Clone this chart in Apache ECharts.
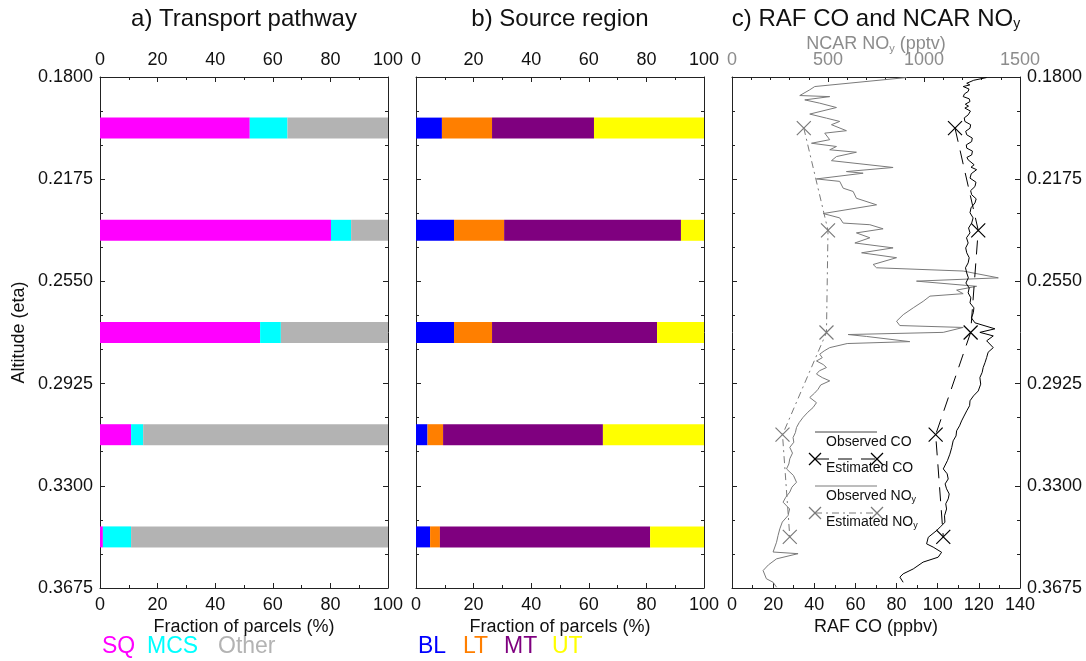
<!DOCTYPE html>
<html><head><meta charset="utf-8">
<script src="https://cdn.jsdelivr.net/npm/echarts@6/dist/echarts.min.js"></script>
<style>html,body{margin:0;padding:0;background:#fff}#c{width:1086px;height:661px}</style>
</head><body><div id="c"></div>
<script>
// ---------------- DATA ----------------
var LEVELS = [0.19875, 0.23625, 0.27375, 0.31125, 0.34875];   // eta of each layer (bar centre)
var Y_TICKS = [0.18, 0.2175, 0.255, 0.2925, 0.33, 0.3675];

// a) Transport pathway (% of parcels)
var PATH_NAMES = ['SQ', 'MCS', 'Other'];
var SQ    = [52.0, 80.2, 55.6, 10.8, 1.0];
var MCS   = [13.1,  7.0,  7.2,  4.2, 9.8];
var OTHER = [34.9, 12.8, 37.2, 85.0, 89.2];

// b) Source region (% of parcels)
var REG_NAMES = ['BL', 'LT', 'MT', 'UT'];
var BL = [ 9.0, 13.2, 13.2, 4.0,  4.9];
var LT = [17.4, 17.4, 13.2, 5.4,  3.4];
var MT = [35.4, 61.4, 57.3, 55.5, 73.0];
var UT = [38.2,  8.0, 16.3, 35.1, 18.7];

// c) Observed profiles: [eta, value]
var CO_OBS = [
 [0.1802,123.8],[0.1812,117.5],[0.1823,114.1],[0.1829,115.6],[0.1835,112.4],[0.1844,115.2],[0.1853,114.8],[0.1862,113.0],
 [0.1872,112.4],[0.1880,115.3],[0.1890,115.7],[0.1900,113.4],[0.1907,115.0],[0.1914,113.2],[0.1925,115.9],[0.1939,114.8],
 [0.1950,112.9],[0.1963,113.2],[0.1975,116.0],[0.1988,115.7],[0.1999,113.6],[0.2012,114.1],[0.2024,116.8],[0.2037,116.5],
 [0.2049,113.9],[0.2061,114.1],[0.2072,116.9],[0.2086,116.5],[0.2095,114.2],[0.2104,114.8],[0.2122,117.7],[0.2131,116.2],
 [0.2140,118.9],[0.2155,116.3],[0.2171,115.7],[0.2186,118.6],[0.2202,118.1],[0.2217,116.0],[0.2232,116.5],[0.2247,118.7],
 [0.2262,118.1],[0.2280,116.2],[0.2298,115.7],[0.2317,117.2],[0.2336,116.5],[0.2354,115.0],[0.2372,115.7],[0.2390,114.0],
 [0.2409,114.8],[0.2427,113.6],[0.2445,114.1],[0.2463,115.3],[0.2482,114.8],[0.2500,113.5],[0.2519,114.1],[0.2537,114.9],
 [0.2556,113.7],[0.2574,115.3],[0.2592,114.8],[0.2610,116.1],[0.2629,115.7],[0.2647,117.6],[0.2665,117.3],[0.2684,116.4],
 [0.2702,118.1],[0.2724,127.8],[0.2737,120.5],[0.2750,127.0],[0.2768,123.8],[0.2793,127.0],[0.2810,124.5],[0.2829,123.8],
 [0.2848,123.0],[0.2866,122.1],[0.2884,121.6],[0.2903,120.5],[0.2927,120.9],[0.2952,119.7],[0.2970,117.4],[0.2988,115.7],
 [0.3006,115.5],[0.3025,114.1],[0.3044,112.8],[0.3062,111.6],[0.3080,110.6],[0.3098,109.2],[0.3117,108.9],[0.3135,107.5],
 [0.3160,106.8],[0.3184,105.9],[0.3208,104.7],[0.3238,102.7],[0.3256,104.6],[0.3275,105.1],[0.3293,103.6],[0.3311,104.3],
 [0.3330,105.6],[0.3348,105.1],[0.3366,103.9],[0.3385,104.3],[0.3410,103.3],[0.3434,103.5],[0.3449,101.5],[0.3464,99.5],
 [0.3489,95.4],[0.3513,94.6],[0.3525,97.8],[0.3544,101.9],[0.3562,100.2],[0.3580,92.9],[0.3605,88.1],[0.3623,83.2],
 [0.3635,81.6],[0.3654,83.2]
];
var NOY_OBS = [
 [0.1802,909],[0.1835,431],[0.1847,405],[0.1868,353],[0.1872,509],[0.1884,379],[0.1896,457],[0.1912,544],
 [0.1936,405],[0.1951,492],[0.1963,561],[0.1975,518],[0.1997,596],[0.2006,483],[0.2030,509],[0.2043,414],
 [0.2055,544],[0.2067,509],[0.2076,648],[0.2092,544],[0.2107,518],[0.2132,839],[0.2147,596],[0.2153,683],
 [0.2174,440],[0.2183,561],[0.2208,579],[0.2220,631],[0.2245,648],[0.2269,753],[0.2301,475],[0.2317,561],
 [0.2336,579],[0.2342,718],[0.2357,787],[0.2372,648],[0.2390,718],[0.2409,640],[0.2427,839],[0.2445,675],
 [0.2463,857],[0.2488,735],[0.2500,753],[0.2512,1204],[0.2537,1387],[0.2549,961],[0.2568,1274],[0.2582,1170],
 [0.2595,1204],[0.2604,1031],[0.2623,996],[0.2647,944],[0.2672,892],[0.2696,857],[0.2712,874],[0.2719,1204],
 [0.2737,1100],[0.2745,605],[0.2752,700],[0.2771,926],[0.2778,600],[0.2793,509],[0.2805,480],[0.2817,457],
 [0.2830,470],[0.2842,440],[0.2855,475],[0.2866,492],[0.2878,455],[0.2890,440],[0.2903,470],[0.2915,509],
 [0.2930,462],[0.2946,448],[0.2960,430],[0.2976,405],[0.2995,440],[0.3013,422],[0.3030,395],[0.3049,370],
 [0.3068,350],[0.3086,336],[0.3105,330],[0.3123,318],[0.3140,322],[0.3159,301],[0.3180,315],[0.3201,301],
 [0.3220,296],[0.3238,284],[0.3262,320],[0.3287,336],[0.3305,312],[0.3323,301],[0.3342,280],[0.3360,266],
 [0.3385,300],[0.3409,292],[0.3433,262],[0.3458,249],[0.3482,240],[0.3507,232],[0.3543,214],[0.3549,344],
 [0.3568,232],[0.3590,190],[0.3611,162],[0.3641,179],[0.3654,214],[0.3672,232]
];
// c) Estimated values at the five layers
var EST_CO  = [108.4, 119.7, 116.0, 99.0, 102.7];
var EST_NOY = [374, 500, 492, 263, 301];

// ---------------- STYLE / LAYOUT ----------------
var FONT = "'Liberation Sans', Arial, Helvetica, sans-serif";
var Y0 = 0.18, YSTEP = 0.0375;            // y axis in "tick units"
function yv(eta){ return (eta - Y0) / YSTEP; }
var BAR_THICK = 0.0077 / YSTEP;
var PATH_COLORS = ['#ff00ff', '#00ffff', '#b3b3b3'];
var REG_COLORS = ['#0000ff', '#ff7f00', '#7f007f', '#ffff00'];
var AX = '#222';
var XMARK = 'path://M0,0L10,10M10,0L0,10';

function stackRows(arrs){
  var rows = [];
  for (var k = 0; k < arrs.length; k++) rows.push([]);
  for (var i = 0; i < LEVELS.length; i++) {
    var acc = 0;
    for (var k = 0; k < arrs.length; k++) {
      rows[k].push([yv(LEVELS[i]), acc, acc + arrs[k][i]]);
      acc += arrs[k][i];
    }
  }
  return rows;
}
function barSeries(name, rows, color, xi, yi){
  return {
    type: 'custom', name: name, xAxisIndex: xi, yAxisIndex: yi,
    encode: { x: [1, 2], y: 0 },
    data: rows,
    renderItem: function(params, api){
      var y = api.value(0), a = api.value(1), b = api.value(2);
      var p0 = api.coord([a, y]), p1 = api.coord([b, y]);
      var h = api.size([0, BAR_THICK])[1];
      return { type: 'rect', shape: { x: p0[0], y: p0[1] - h/2, width: p1[0] - p0[0], height: h },
               style: { fill: color } };
    }
  };
}

var grids = [
  { left: 100, top: 77, width: 288, height: 511 },
  { left: 416, top: 77, width: 288, height: 511 },
  { left: 732, top: 77, width: 288, height: 511 }
];
function plain(v){ return String(v); }
function xAx(gi, pos, min, max, interval, minorSplit, opts){
  var o = {
    type: 'value', gridIndex: gi, position: pos, min: min, max: max, interval: interval,
    nameMoveOverlap: false,
    axisLine: { show: true, onZero: false, lineStyle: { color: AX, width: 1 } },
    axisTick: { show: true, inside: true, length: 5, lineStyle: { color: AX } },
    minorTick: { show: true, splitNumber: minorSplit, length: 3, lineStyle: { color: AX } },
    splitLine: { show: false },
    axisLabel: { show: true, color: '#111', fontSize: 18, fontFamily: FONT, margin: 8, formatter: plain }
  };
  for (var k in opts) o[k] = opts[k];
  return o;
}
function yAx(gi, pos, showLabel, opts){
  var o = {
    type: 'value', gridIndex: gi, position: pos, min: 0, max: 5, interval: 1, inverse: true,
    nameMoveOverlap: false,
    axisLine: { show: true, onZero: false, lineStyle: { color: AX, width: 1 } },
    axisTick: { show: true, inside: true, length: 5, lineStyle: { color: AX } },
    minorTick: { show: true, splitNumber: 3, length: 3, lineStyle: { color: AX } },
    splitLine: { show: false },
    axisLabel: { show: showLabel, color: '#111', fontSize: 18, fontFamily: FONT, margin: 7,
      formatter: function(v){ return Y_TICKS[Math.round(v)].toFixed(4); } }
  };
  for (var k in opts) o[k] = opts[k];
  return o;
}
var nameStyle = { color: '#111', fontSize: 18, fontFamily: FONT };
var grayLbl = { show: true, color: '#8c8c8c', fontSize: 18, fontFamily: FONT, margin: 8, formatter: plain };

var xAxes = [
  xAx(0, 'bottom', 0, 100, 20, 2, { name: 'Fraction of parcels (%)', nameLocation: 'middle', nameGap: 30, nameTextStyle: nameStyle }),
  xAx(0, 'top', 0, 100, 20, 2, {}),
  xAx(1, 'bottom', 0, 100, 20, 2, { name: 'Fraction of parcels (%)', nameLocation: 'middle', nameGap: 30, nameTextStyle: nameStyle }),
  xAx(1, 'top', 0, 100, 20, 2, {}),
  xAx(2, 'bottom', 0, 140, 20, 2, { name: 'RAF CO (ppbv)', nameLocation: 'middle', nameGap: 30, nameTextStyle: nameStyle }),
  xAx(2, 'top', 0, 1500, 500, 5, { axisLabel: grayLbl, name: 'NCAR NO{s|y} (pptv)', nameLocation: 'middle', nameGap: 23,
      nameTextStyle: { color: '#8c8c8c', fontSize: 18, fontFamily: FONT, rich: { s: { fontSize: 11, color: '#8c8c8c', fontFamily: FONT, padding: [9, 0, 0, 0] } } } })
];
var yAxes = [
  yAx(0, 'left', true, { name: 'Altitude (eta)', nameLocation: 'middle', nameGap: 72, nameTextStyle: nameStyle }),
  yAx(0, 'right', false, {}),
  yAx(1, 'left', false, {}),
  yAx(1, 'right', false, {}),
  yAx(2, 'left', false, {}),
  yAx(2, 'right', true, {})
];

var series = [];
var pr = stackRows([SQ, MCS, OTHER]);
for (var k = 0; k < 3; k++) series.push(barSeries(PATH_NAMES[k], pr[k], PATH_COLORS[k], 0, 0));
var rr = stackRows([BL, LT, MT, UT]);
for (var k = 0; k < 4; k++) series.push(barSeries(REG_NAMES[k], rr[k], REG_COLORS[k], 2, 2));

function toXY(arr){ return arr.map(function(d){ return [d[1], yv(d[0])]; }); }
function estXY(vals){ return vals.map(function(v, i){ return [v, yv(LEVELS[i])]; }); }

series.push({ type: 'line', name: 'Observed NOy', xAxisIndex: 5, yAxisIndex: 4, data: toXY(NOY_OBS),
  showSymbol: false, symbol: 'none', lineStyle: { color: '#7a7a7a', width: 1 }, z: 2, animation: false });
series.push({ type: 'line', name: 'Observed CO', xAxisIndex: 4, yAxisIndex: 4, data: toXY(CO_OBS),
  showSymbol: false, symbol: 'none', lineStyle: { color: '#000', width: 1 }, z: 3, animation: false });
series.push({ type: 'line', name: 'Estimated NOy', xAxisIndex: 5, yAxisIndex: 4, data: estXY(EST_NOY),
  symbol: XMARK, symbolSize: 14, itemStyle: { color: 'rgba(0,0,0,0)', borderColor: '#7a7a7a', borderWidth: 1.2 },
  lineStyle: { color: '#7a7a7a', width: 1, type: [7, 4, 2, 4] }, z: 4, animation: false });
series.push({ type: 'line', name: 'Estimated CO', xAxisIndex: 4, yAxisIndex: 4, data: estXY(EST_CO),
  symbol: XMARK, symbolSize: 14, itemStyle: { color: 'rgba(0,0,0,0)', borderColor: '#000', borderWidth: 1.2 },
  lineStyle: { color: '#000', width: 1, type: [14, 9] }, z: 5, animation: false });

// ---------------- GRAPHIC (titles, legends) ----------------
var subRich = function(col, fs){ return { s: { fontSize: fs, fontFamily: FONT, color: col, padding: [Math.round(fs*0.8), 0, 0, 0] } }; };
var g = [];
function txt(x, y, s, col, fs, align, rich){
  g.push({ type: 'text', x: x, y: y, style: { text: s, fill: col, font: fs + 'px ' + FONT, textAlign: align || 'left', textVerticalAlign: 'middle', rich: rich } });
}
// titles
txt(244, 19, 'a) Transport pathway', '#111', 24, 'center');
txt(560, 19, 'b) Source region', '#111', 24, 'center');
txt(876, 19, 'c) RAF CO and NCAR NO{s|y}', '#111', 24, 'center', subRich('#111', 14));
// bottom legends
var pathX = [102, 147, 218];
for (var k = 0; k < 3; k++) txt(pathX[k], 647, PATH_NAMES[k], PATH_COLORS[k], 23, 'left');
var regX = [418, 463, 504, 552];
for (var k = 0; k < 4; k++) txt(regX[k], 647, REG_NAMES[k], REG_COLORS[k], 23, 'left');
// panel c legend
function hline(y, col, dash){ g.push({ type: 'line', shape: { x1: 815, y1: y, x2: 877, y2: y }, style: { stroke: col, lineWidth: 1, lineDash: dash || null } }); }
function xm(x, y, col){ g.push({ type: 'polyline', shape: { points: [[x-6,y-6],[x+6,y+6]] }, style: { stroke: col, lineWidth: 1.2, fill: null } });
                        g.push({ type: 'polyline', shape: { points: [[x+6,y-6],[x-6,y+6]] }, style: { stroke: col, lineWidth: 1.2, fill: null } }); }
hline(432, '#444');
txt(826, 442, 'Observed CO', '#111', 14);
hline(459, '#000', [14, 9]); xm(815, 459, '#000'); xm(877, 459, '#000');
txt(826, 468, 'Estimated CO', '#111', 14);
hline(486, '#7a7a7a');
txt(826, 496, 'Observed NO{s|y}', '#111', 14, 'left', subRich('#111', 9));
hline(513, '#7a7a7a', [7, 4, 2, 4]); xm(815, 513, '#7a7a7a'); xm(877, 513, '#7a7a7a');
txt(826, 522, 'Estimated NO{s|y}', '#111', 14, 'left', subRich('#111', 9));

var chart = echarts.init(document.getElementById('c'), null, { renderer: 'canvas' });
chart.setOption({
  backgroundColor: '#fff',
  animation: false,
  grid: grids,
  xAxis: xAxes,
  yAxis: yAxes,
  series: series,
  graphic: g
});
</script>
</body></html>
